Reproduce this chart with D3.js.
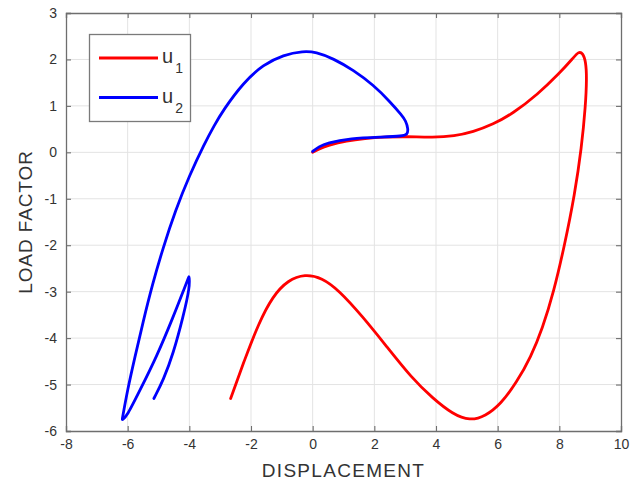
<!DOCTYPE html>
<html><head><meta charset="utf-8">
<script src="https://cdn.jsdelivr.net/npm/d3@7"></script>
<style>
body{margin:0;background:#fff;}
svg{display:block;font-family:"Liberation Sans",Arial,sans-serif;}
</style></head>
<body>
<svg id="chart" width="630" height="491"></svg>
<script>
const xTicks = [-8,-6,-4,-2,0,2,4,6,8,10];
const yTicks = [-6,-5,-4,-3,-2,-1,0,1,2,3];
const seriesNames = ["u1","u2"];
// u1 : displacement (x) and load factor (y)
const u1X = [0,0.2,0.5,1.1,1.7,2.3,3.05,3.9,4.6,5.2,5.85,6.5,7.3,8.0,8.45,8.62,8.76,8.86,8.89,8.85,8.72,8.5,8.17,7.82,7.45,7.08,6.62,6.1,5.6,5.1,4.55,3.9,3.2,2.4,1.6,0.85,0.3,-0.25,-0.8,-1.3,-1.75,-2.2,-2.66];
const u1Y = [0,0.07,0.15,0.25,0.3,0.33,0.34,0.32,0.35,0.44,0.6,0.84,1.25,1.7,2.03,2.17,2.14,1.95,1.6,1.0,0.1,-0.9,-2.0,-3.0,-3.8,-4.4,-4.95,-5.42,-5.68,-5.78,-5.64,-5.3,-4.85,-4.18,-3.52,-2.97,-2.7,-2.62,-2.75,-3.1,-3.68,-4.45,-5.3];
// u2
const u2X = [0,0.2,0.46,1.21,2.29,2.9,3.07,3.1,3.02,2.89,2.51,1.97,1.32,0.67,0.1,-0.3,-0.95,-1.6,-2.25,-2.9,-3.2,-3.5,-4.0,-4.45,-4.85,-5.2,-5.5,-5.78,-6.0,-6.18,-6.18,-6.03,-5.6,-5.06,-4.52,-4.14,-4.01,-4.01,-3.98,-4.2,-4.52,-4.84,-5.15];
const u2Y = [0.02,0.12,0.2,0.3,0.33,0.35,0.38,0.5,0.68,0.8,1.09,1.45,1.77,2.02,2.16,2.18,2.1,1.89,1.5,0.91,0.57,0.2,-0.5,-1.25,-2.05,-2.85,-3.65,-4.45,-5.1,-5.76,-5.76,-5.69,-5.12,-4.4,-3.54,-2.89,-2.67,-2.67,-2.89,-3.54,-4.33,-4.9,-5.3];

const colors = ["#ff0000","#0000ff"];
const L = 66, R = 621, T = 13, B = 431;
const svg = d3.select("#chart");
const x = d3.scaleLinear().domain([-8,10]).range([L,R]);
const y = d3.scaleLinear().domain([-6,3]).range([B,T]);

// grid
const g = svg.append("g");
g.selectAll("line.gx").data(xTicks.slice(1,-1)).join("line")
  .attr("x1",d=>x(d)).attr("x2",d=>x(d)).attr("y1",T).attr("y2",B)
  .attr("stroke","#e3e3e3").attr("stroke-width",1);
g.selectAll("line.gy").data(yTicks.slice(1,-1)).join("line")
  .attr("y1",d=>y(d)).attr("y2",d=>y(d)).attr("x1",L).attr("x2",R)
  .attr("stroke","#e3e3e3").attr("stroke-width",1);

// series
const line = d3.line().x(d=>x(d[0])).y(d=>y(d[1])).curve(d3.curveBasis);
const data = [d3.zip(u1X,u1Y), d3.zip(u2X,u2Y)];
svg.append("g").selectAll("path").data(data).join("path")
  .attr("d",line).attr("fill","none")
  .attr("stroke",(d,i)=>colors[i]).attr("stroke-width",2.8)
  .attr("stroke-linejoin","round").attr("stroke-linecap","round");

// axes (box with inner ticks)
const axColor = "#6e6e6e";
const tickLen = 5;
const fmt = d => d < 0 ? "-" + Math.abs(d) : String(d);
const axB = svg.append("g").attr("transform",`translate(0,${B})`)
  .call(d3.axisBottom(x).tickValues(xTicks).tickSize(-tickLen).tickPadding(8).tickFormat(fmt));
const axT = svg.append("g").attr("transform",`translate(0,${T})`)
  .call(d3.axisTop(x).tickValues(xTicks).tickSize(-tickLen).tickFormat(""));
const axL = svg.append("g").attr("transform",`translate(${L},0)`)
  .call(d3.axisLeft(y).tickValues(yTicks).tickSize(-tickLen).tickPadding(9).tickFormat(fmt));
const axR = svg.append("g").attr("transform",`translate(${R},0)`)
  .call(d3.axisRight(y).tickValues(yTicks).tickSize(-tickLen).tickFormat(""));
[axB,axT,axL,axR].forEach(a=>{
  a.select(".domain").attr("stroke",axColor).attr("stroke-width",1.3);
  a.selectAll(".tick line").attr("stroke",axColor).attr("stroke-width",1.1);
  a.selectAll(".tick text").attr("fill","#333").style("font-size","14px")
   .style("font-family","'Liberation Sans',Arial,sans-serif");
});
axB.selectAll(".tick text").attr("dy","0.71em");

// axis titles
svg.append("text").attr("x",(L+R)/2).attr("y",477).attr("text-anchor","middle")
  .attr("fill","#333").style("font-size","19px").attr("letter-spacing","1.3")
  .text("DISPLACEMENT");
svg.append("text").attr("transform",`translate(32,${(T+B)/2}) rotate(-90)`)
  .attr("text-anchor","middle").attr("fill","#333").style("font-size","19px")
  .attr("letter-spacing","0.9").text("LOAD FACTOR");

// legend
const lg = svg.append("g");
lg.append("rect").attr("x",89.5).attr("y",34.5).attr("width",101).attr("height",87)
  .attr("fill","#fff").attr("stroke","#7a7a7a").attr("stroke-width",1.3);
const legY = [58, 97.5];
seriesNames.forEach((n,i)=>{
  lg.append("line").attr("x1",99).attr("x2",158).attr("y1",legY[i]).attr("y2",legY[i])
    .attr("stroke",colors[i]).attr("stroke-width",2.8);
  const t = lg.append("text").attr("x",162).attr("y",legY[i]+5).attr("fill","#333")
    .style("font-size","20px");
  t.append("tspan").text(n[0]);
  t.append("tspan").attr("dy",10).attr("dx",2).style("font-size","14px").text(n.slice(1));
});
</script>
</body></html>
